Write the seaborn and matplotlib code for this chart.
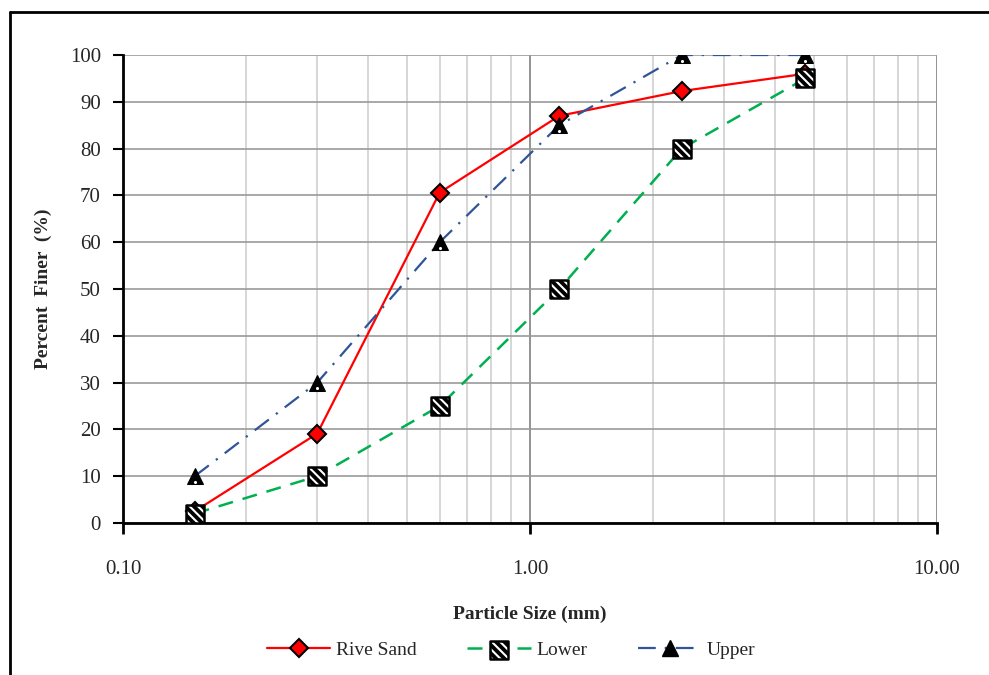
import numpy as np
import pandas as pd
import seaborn as sns
import matplotlib.pyplot as plt
from matplotlib.ticker import FixedLocator, LogLocator, NullFormatter, FormatStrFormatter
from matplotlib.legend_handler import HandlerTuple
from matplotlib.lines import Line2D

# sieve sizes (mm) and percent finer
sizes = [0.15, 0.3, 0.6, 1.18, 2.36, 4.75]
rive_sand = [2.5, 19.1, 70.6, 87.0, 92.3, 96.0]
lower = [2, 10, 25, 50, 80, 95]
upper = [10, 30, 60, 85, 100, 100]

sns.set_theme(style='white')
plt.rcParams['font.family'] = ['Liberation Serif', 'DejaVu Serif']
plt.rcParams['hatch.linewidth'] = 1.5

fig = plt.figure(figsize=(9.89, 6.75), dpi=100)
ax = fig.add_axes([0.1244, 0.2252, 0.823, 0.6933])

df = pd.DataFrame({'size': sizes, 'Rive Sand': rive_sand, 'Lower': lower, 'Upper': upper})

# Rive Sand
sns.lineplot(data=df, x='size', y='Rive Sand', ax=ax, color='#FF0000', lw=1.6,
             marker='D', markersize=9, markerfacecolor='#FF0000', markeredgecolor='black',
             markeredgewidth=1.5, zorder=3)

# Lower: dashed green with black squares striped white
ln_low = ax.plot(df['size'], df['Lower'], color='#00B050', lw=1.8, ls=(0, (6, 4)), zorder=4)[0]
sq_fill = ax.scatter(df['size'], df['Lower'], marker='s', s=170, facecolor='black',
                     edgecolor='white', linewidth=0, hatch='\\\\\\\\', zorder=5)
sq_edge = ax.scatter(df['size'], df['Lower'], marker='s', s=170, facecolor='none',
                     edgecolor='black', linewidth=1.8, zorder=5)

# Upper
sns.lineplot(data=df, x='size', y='Upper', ax=ax, color='#2F5597', lw=1.6,
             dashes=False, linestyle=(0, (8, 4, 1, 4)),
             marker='^', markersize=12, markerfacecolor='black', markeredgecolor='black',
             zorder=6)
ax.scatter(df['size'], np.array(df['Upper']) - 1.2, marker='.', s=6, color='white', zorder=7)

ax.set_xscale('log')
ax.set_xlim(0.1, 10)
ax.set_ylim(0, 100)
ax.set_yticks(range(0, 101, 10))
ax.xaxis.set_major_locator(FixedLocator([0.1, 1, 10]))
ax.xaxis.set_major_formatter(FormatStrFormatter('%.2f'))
ax.xaxis.set_minor_locator(LogLocator(base=10, subs=np.arange(2, 10)))
ax.xaxis.set_minor_formatter(NullFormatter())

ax.grid(True, which='major', axis='y', color='#9a9a9a', lw=1.2)
ax.grid(True, which='major', axis='x', color='#808080', lw=1.2)
ax.grid(True, which='minor', axis='x', color='#d0d0d0', lw=1.2)
ax.set_axisbelow(True)

for s in ['top', 'right']:
    ax.spines[s].set_visible(False)
for s in ['left', 'bottom']:
    ax.spines[s].set_color('black')
    ax.spines[s].set_linewidth(2)

ax.tick_params(axis='y', which='major', direction='out', length=7, width=1.5, color='black',
               left=True, labelsize=15, pad=9)
ax.tick_params(axis='x', which='major', direction='out', length=8, width=2, color='black',
               bottom=True, labelsize=15, pad=19)
ax.tick_params(axis='x', which='minor', bottom=False)

ax.set_xlabel('Particle Size (mm)', fontsize=14, fontweight='bold', labelpad=19)
ax.set_ylabel('Percent  Finer  (%)', fontsize=14, fontweight='bold', labelpad=13)

h1 = Line2D([], [], color='#FF0000', lw=1.6, marker='D', markersize=9,
            markerfacecolor='#FF0000', markeredgecolor='black', markeredgewidth=1.5)
h3 = Line2D([], [], color='#2F5597', lw=1.6, ls=(0, (8, 4, 1, 4)), marker='^',
            markersize=12, markerfacecolor='black', markeredgecolor='black')
leg = fig.legend([h1, (ln_low, sq_fill, sq_edge), h3], ['Rive Sand', 'Lower', 'Upper'],
                 handler_map={tuple: HandlerTuple(ndivide=1)},
                 loc='center', bbox_to_anchor=(0.517, 0.037), ncol=3, frameon=False,
                 fontsize=14, handlelength=3.25, columnspacing=2.6, handletextpad=0.3,
                 scatterpoints=1)

# outer frame (top and left edges visible)
fig.add_artist(Line2D([10 / 989, 1.0], [1 - 12 / 675, 1 - 12 / 675], color='black', lw=2,
                      transform=fig.transFigure))
fig.add_artist(Line2D([10 / 989, 10 / 989], [0, 1 - 12 / 675], color='black', lw=2,
                      transform=fig.transFigure))

fig.savefig('out.png', dpi=100)
